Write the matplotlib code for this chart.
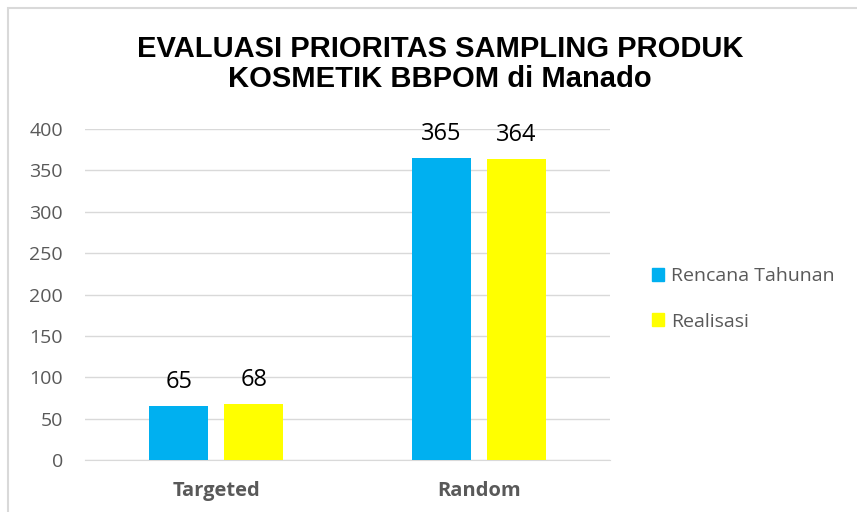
import matplotlib
matplotlib.use("Agg")
import matplotlib.pyplot as plt
import numpy as np
from matplotlib.patches import Rectangle

categories = ["Targeted", "Random"]
rencana = [65, 365]
realisasi = [68, 364]
series_names = ["Rencana Tahunan", "Realisasi"]
colors = ["#00B0F0", "#FFFF00"]

W, H = 857, 512
fig = plt.figure(figsize=(W / 100, H / 100), dpi=100)
ax = fig.add_axes([85 / W, (H - 460) / H, (610 - 85) / W, (460 - 129) / H])

x = np.arange(len(categories))
bw = 0.225
off = 0.143
for i, (vals, name, c) in enumerate(zip([rencana, realisasi], series_names, colors)):
    pos = x + (i - 0.5) * 2 * off
    ax.bar(pos, vals, width=bw, color=c, label=name, zorder=3)
    for xi, v in zip(pos, vals):
        ax.text(xi, v + 22, str(v), ha="center", va="baseline", fontsize=17,
                family="Open Sans", color="black")

ax.set_xlim(-0.5, 1.5)
ax.set_ylim(0, 400)
ax.set_yticks(range(0, 401, 50))
ax.yaxis.grid(True, color="#D9D9D9", lw=1, zorder=0)
ax.set_axisbelow(True)
for s in ["left", "right", "top"]:
    ax.spines[s].set_visible(False)
ax.spines["bottom"].set_color("#D9D9D9")
ax.tick_params(axis="both", length=0, colors="#595959")
ax.tick_params(axis="y", labelsize=14, pad=16)
ax.set_xticks(x)
ax.set_xticklabels(categories, fontsize=14.5, fontweight="bold", family="Open Sans")
ax.tick_params(axis="x", pad=15)
for lab in ax.get_yticklabels():
    lab.set_family("Open Sans")

fig.text(440 / W, 1 - 64 / H, "EVALUASI PRIORITAS SAMPLING PRODUK\nKOSMETIK BBPOM di Manado",
         ha="center", va="center", fontsize=21, fontweight="bold",
         family="Liberation Sans", linespacing=1.1)

handles = [Rectangle((0, 0), 1, 1, color=c) for c in colors]
leg = fig.legend(handles, series_names, loc="center left",
                 bbox_to_anchor=(634 / W, 1 - 299 / H), frameon=False,
                 handlelength=0.65, handleheight=0.65, handletextpad=0.35,
                 labelspacing=1.4, prop={"family": "Open Sans", "size": 14})
for t in leg.get_texts():
    t.set_color("#595959")

# chart frame: only the top and left edges fall inside the picture
fig.patches.append(Rectangle((8 / W, -0.1), 1.1, 1.1 - 8 / H, transform=fig.transFigure,
                             fill=False, edgecolor="#D9D9D9", lw=1.5))

fig.savefig("out.png", dpi=100)
